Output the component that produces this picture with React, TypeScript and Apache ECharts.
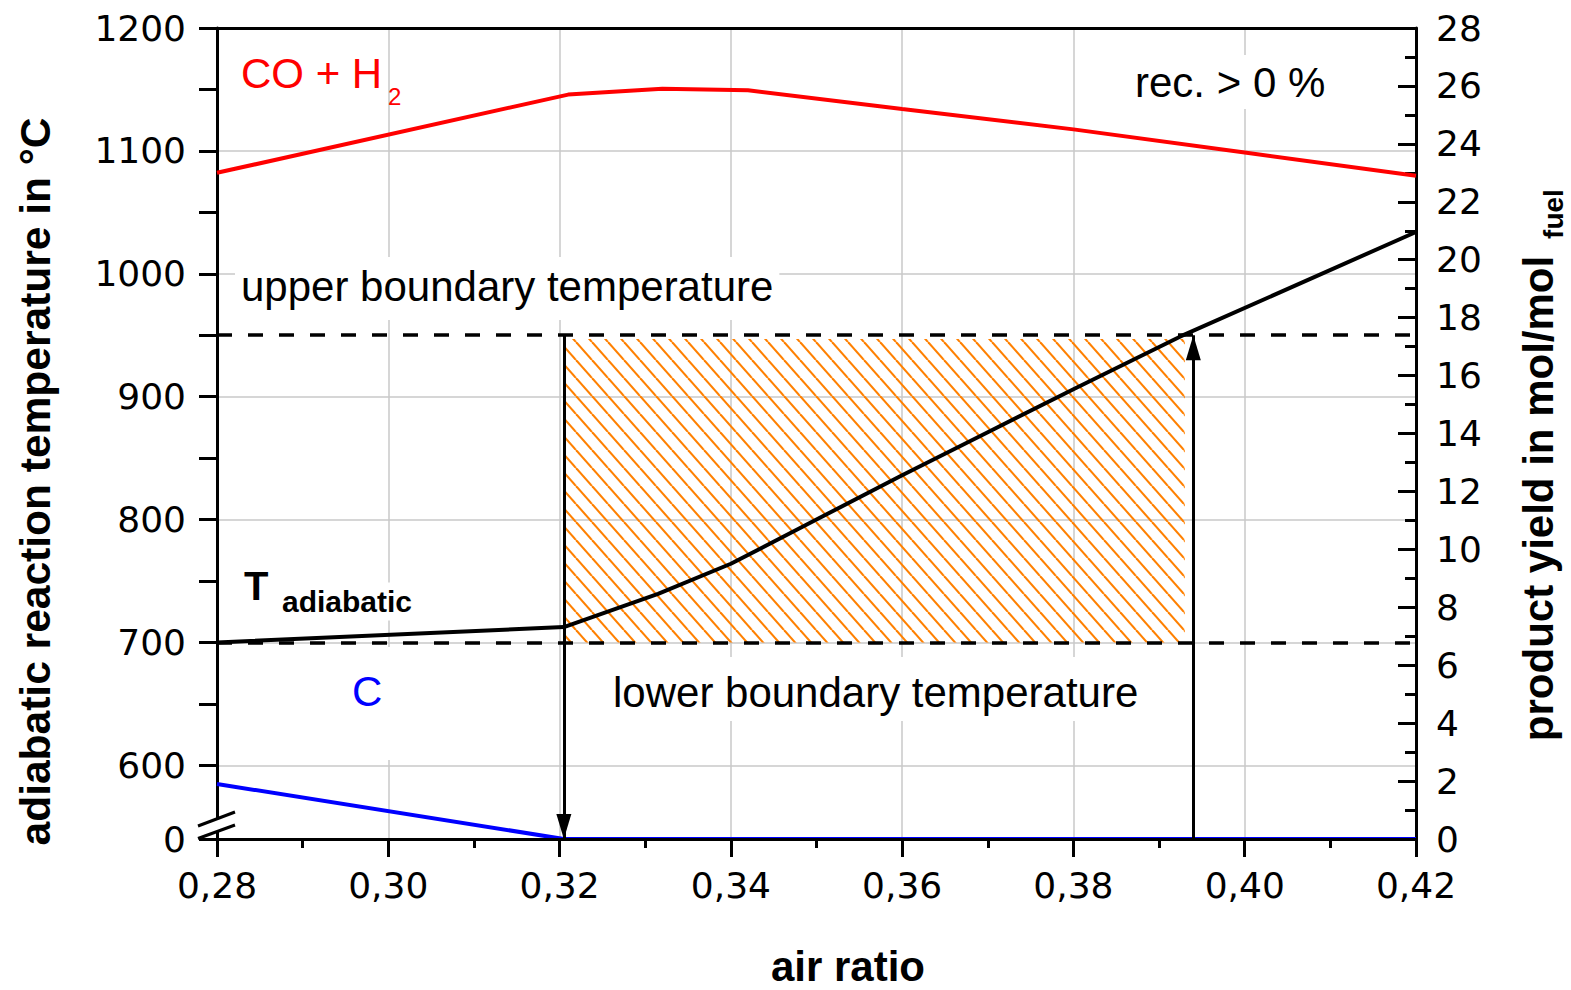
import React, { useEffect, useRef } from "react";
import * as echarts from "echarts";

// ---- data ----
const airRatioTicks = [0.3, 0.32, 0.34, 0.36, 0.38, 0.4];
const tempLabelValues = [540, 600, 700, 800, 900, 1000, 1100, 1200];
const tempTickValues = [540, 600, 650, 700, 750, 800, 850, 900, 950, 1000, 1050, 1100, 1150, 1200];
const tempGridValues = [600, 700, 800, 900, 1000, 1100];

const airRatioT = [0.28, 0.3205, 0.3315, 0.34, 0.35, 0.36, 0.37, 0.38, 0.3925, 0.42];
const tAdiabatic = [700, 712.5, 739.5, 764, 800, 836, 871, 906, 949, 1034];

const airRatioCO = [0.28, 0.321, 0.332, 0.342, 0.36, 0.38, 0.4, 0.42];
const coH2Yield = [23.0, 25.7, 25.9, 25.85, 25.2, 24.5, 23.7, 22.9];

const airRatioC = [0.28, 0.3205, 0.42];
const cYield = [1.9, 0, 0];

const upperBoundary = 950;
const lowerBoundary = 700;
const hatchTop = 947;
const windowStart = 0.3205;
const windowEnd = 0.394;
const hatchEnd = 0.393;
const breakValue = 540;

const TICK_FONT = "DejaVu Sans";
const TXT_FONT = "'Liberation Sans', Arial, sans-serif";

function pairs(xs: number[], ys: number[]) {
  return xs.map((x, i) => [x, ys[i]]);
}

function label(
  text: string,
  left: number,
  capCenter: number,
  size: number,
  color: string,
  opts: { bold?: boolean; pad?: number[]; bg?: boolean } = {}
) {
  const pad = opts.pad || [0, 0, 0, 0];
  return {
    type: "text",
    x: left - pad[3],
    y: capCenter - size / 2 - pad[0],
    z: 10,
    silent: true,
    style: {
      text,
      fill: color,
      fontSize: size,
      fontFamily: TXT_FONT,
      fontWeight: opts.bold ? "bold" : "normal",
      align: "left",
      verticalAlign: "top",
      lineHeight: size,
      padding: pad,
      backgroundColor: opts.bg ? "#ffffff" : undefined,
    },
  };
}

function rotText(text: string, x: number, y: number, size: number) {
  return {
    type: "text",
    x,
    y,
    rotation: Math.PI / 2,
    z: 10,
    silent: true,
    style: {
      text,
      fill: "#000",
      fontSize: size,
      fontWeight: "bold",
      fontFamily: TXT_FONT,
      align: "center",
      verticalAlign: "middle",
    },
  };
}

export default function App() {
  const ref = useRef<HTMLDivElement>(null);

  useEffect(() => {
    document.body.style.margin = "0";
    document.body.style.overflow = "hidden";
    const el = ref.current!;
    const chart = echarts.init(el, null, { renderer: "svg" });

    const cv = document.createElement("canvas");
    cv.width = 16;
    cv.height = 18;
    const ctx = cv.getContext("2d")!;
    ctx.strokeStyle = "#ff8000";
    ctx.lineWidth = 2.1;
    for (let k = -1; k <= 1; k++) {
      ctx.beginPath();
      ctx.moveTo(k * 16, 0);
      ctx.lineTo(k * 16 + 16, 18);
      ctx.stroke();
    }
    const hatch = {
      image: cv.toDataURL(),
      repeat: "repeat",
      imageWidth: 16,
      imageHeight: 18,
    };

    const option: any = {
      animation: false,
      grid: { left: 217, right: 155, top: 28, bottom: 151, containLabel: false },
      xAxis: [
        {
          type: "value",
          min: 0.28,
          max: 0.42,
          interval: 0.02,
          position: "bottom",
          z: 3,
          axisLine: { show: true, lineStyle: { color: "#000", width: 3 } },
          axisTick: { show: true, inside: false, length: 18, lineStyle: { color: "#000", width: 3 } },
          minorTick: { show: true, splitNumber: 2, length: 9, lineStyle: { color: "#000", width: 3 } },
          axisLabel: {
            fontSize: 36,
            fontFamily: TICK_FONT,
            color: "#000",
            margin: 28,
            formatter: (v: number) => v.toFixed(2).replace(".", ","),
          },
          splitLine: { show: false },
        },
        {
          type: "value",
          min: 0.28,
          max: 0.42,
          interval: 0.02,
          position: "top",
          axisLine: { show: true, onZero: false, lineStyle: { color: "#000", width: 3 } },
          axisTick: { show: false },
          axisLabel: { show: false },
          splitLine: { show: false },
        },
      ],
      yAxis: [
        {
          type: "value",
          min: breakValue,
          max: 1200,
          position: "left",
          axisLine: { show: true, onZero: false, lineStyle: { color: "#000", width: 3 } },
          axisTick: {
            show: true,
            inside: false,
            length: 18,
            customValues: tempTickValues,
            lineStyle: { color: "#000", width: 3 },
          },
          axisLabel: {
            fontSize: 36,
            fontFamily: TICK_FONT,
            color: "#000",
            margin: 31,
            customValues: tempLabelValues,
            formatter: (v: number) => (v === breakValue ? "0" : String(v)),
          },
          splitLine: { show: false },
        },
        {
          type: "value",
          min: 0,
          max: 28,
          interval: 2,
          position: "right",
          axisLine: { show: true, onZero: false, lineStyle: { color: "#000", width: 3 } },
          axisTick: { show: true, inside: true, length: 18, lineStyle: { color: "#000", width: 3 } },
          minorTick: { show: true, splitNumber: 2, length: 11, lineStyle: { color: "#000", width: 3 } },
          axisLabel: { fontSize: 36, fontFamily: TICK_FONT, color: "#000", margin: 20 },
          splitLine: { show: false },
        },
      ],
      series: [
        {
          name: "grid",
          type: "line",
          xAxisIndex: 0,
          yAxisIndex: 0,
          data: [],
          silent: true,
          z: 0,
          markLine: {
            silent: true,
            z: 0,
            symbol: "none",
            label: { show: false },
            emphasis: { disabled: true },
            lineStyle: { color: "#c8c8c8", width: 1.5, type: "solid" },
            data: [
              ...airRatioTicks.map((v) => ({ xAxis: v })),
              ...tempGridValues.map((v) => ({ yAxis: v })),
            ],
          },
        },
        {
          name: "T adiabatic",
          type: "line",
          xAxisIndex: 0,
          yAxisIndex: 0,
          data: pairs(airRatioT, tAdiabatic),
          showSymbol: false,
          symbol: "none",
          z: 2,
          lineStyle: { color: "#000", width: 4 },
          markArea: {
            silent: true,
            z: 1,
            itemStyle: { color: hatch, borderWidth: 0 },
            label: { show: false },
            data: [[{ coord: [windowStart, hatchTop] }, { coord: [hatchEnd, lowerBoundary] }]],
          },
          markLine: {
            silent: true,
            symbol: "none",
            label: { show: false },
            emphasis: { disabled: true },
            lineStyle: { color: "#000", width: 3.5, type: [15, 16] },
            data: [{ yAxis: upperBoundary }, { yAxis: lowerBoundary }],
          },
        },
        {
          name: "arrow shafts",
          type: "line",
          xAxisIndex: 0,
          yAxisIndex: 0,
          data: [],
          silent: true,
          markLine: {
            silent: true,
            symbol: "none",
            label: { show: false },
            emphasis: { disabled: true },
            lineStyle: { color: "#000", width: 3, type: "solid" },
            data: [
              [{ coord: [windowStart, upperBoundary] }, { coord: [windowStart, breakValue] }],
              [{ coord: [windowEnd, breakValue] }, { coord: [windowEnd, upperBoundary] }],
            ],
          },
        },
        {
          name: "arrow heads",
          type: "scatter",
          xAxisIndex: 0,
          yAxisIndex: 0,
          silent: true,
          z: 6,
          symbol: "triangle",
          symbolSize: [15, 25],
          itemStyle: { color: "#000", opacity: 1 },
          data: [
            { value: [windowStart, breakValue], symbolRotate: 180, symbolOffset: [0, -12.5] },
            { value: [windowEnd, upperBoundary], symbolRotate: 0, symbolOffset: [0, 12.5] },
          ],
        },
        {
          name: "CO + H2",
          type: "line",
          xAxisIndex: 0,
          yAxisIndex: 1,
          data: pairs(airRatioCO, coH2Yield),
          showSymbol: false,
          symbol: "none",
          z: 2,
          lineStyle: { color: "#ff0000", width: 4 },
        },
        {
          name: "C",
          type: "line",
          xAxisIndex: 0,
          yAxisIndex: 1,
          data: pairs(airRatioC, cYield),
          showSymbol: false,
          symbol: "none",
          z: 2,
          lineStyle: { color: "#0000ff", width: 4 },
        },
      ],
      graphic: [
        label("CO + H", 241, 73, 42, "#ff0000"),
        label("2", 388, 96.5, 24, "#ff0000"),
        label("rec. > 0 %", 1135, 82, 42, "#000", { bg: true, pad: [6, 6, 6, 6] }),
        label("upper boundary temperature", 241, 286, 42, "#000", { bg: true, pad: [8, 6, 13, 6] }),
        label("T", 244, 586, 40, "#000", { bold: true, bg: true, pad: [4, 4, 4, 4] }),
        label("adiabatic", 282, 601.5, 30, "#000", { bold: true, bg: true, pad: [4, 4, 4, 4] }),
        label("C", 352, 691, 42, "#0000ff", { bg: true, pad: [23, 10, 48, 12] }),
        label("lower boundary temperature", 613, 692, 42, "#000", { bg: true, pad: [14, 6, 8, 6] }),
        {
          type: "text",
          x: 848,
          y: 966,
          z: 10,
          silent: true,
          style: {
            text: "air ratio",
            fill: "#000",
            fontSize: 42,
            fontWeight: "bold",
            fontFamily: TXT_FONT,
            align: "center",
            verticalAlign: "middle",
          },
        },
        rotText("adiabatic reaction temperature in °C", 35, 481.5, 42.5),
        rotText("product yield in mol/mol", 1538, 498.5, 42),
        rotText("fuel", 1553, 214, 28),
        {
          type: "polygon",
          z: 10,
          silent: true,
          shape: { points: [[212, 820.8], [222, 817], [222, 830], [212, 833.6]] },
          style: { fill: "#ffffff", stroke: null },
        },
        {
          type: "line",
          z: 11,
          silent: true,
          shape: { x1: 198, y1: 826, x2: 235, y2: 812 },
          style: { stroke: "#000", lineWidth: 3 },
        },
        {
          type: "line",
          z: 11,
          silent: true,
          shape: { x1: 198, y1: 838.5, x2: 235, y2: 825 },
          style: { stroke: "#000", lineWidth: 3 },
        },
      ],
    };

    chart.setOption(option);
    return () => chart.dispose();
  }, []);

  return <div ref={ref} style={{ width: 1571, height: 990 }} />;
}
